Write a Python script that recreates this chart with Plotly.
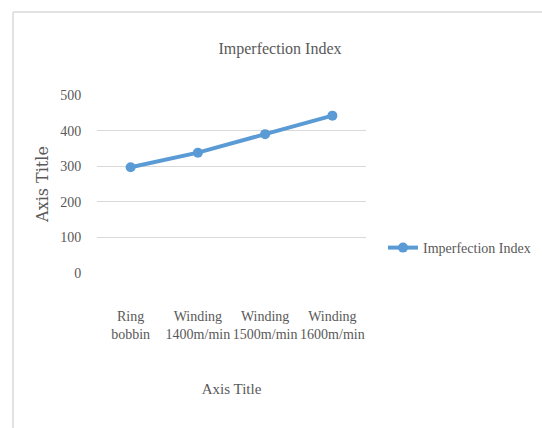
import plotly.graph_objects as go

# Imperfection index for ring bobbin vs. winding speeds
categories = ["Ring<br>bobbin", "Winding<br>1400m/min", "Winding<br>1500m/min", "Winding<br>1600m/min"]
imperfection_index = [297, 338, 390, 442]
y_ticks = [0, 100, 200, 300, 400, 500]

W, H = 542, 428
L, R, T, B = 97, 176, 95, 155
pw, ph = W - L - R, H - T - B

def px(xp):
    return (xp - L) / pw

def py(yp):
    return (H - B - yp) / ph

text_color = "#595959"
grid_color = "#D9D9D9"
serif = "Liberation Serif"

fig = go.Figure()
fig.add_trace(go.Scatter(
    x=categories, y=imperfection_index, mode="lines+markers",
    name="Imperfection Index",
    line=dict(color="#5B9BD5", width=4),
    marker=dict(symbol="circle", size=10, color="#5B9BD5"),
))

fig.update_layout(
    width=W, height=H,
    margin=dict(l=L, r=R, t=T, b=B, autoexpand=False),
    paper_bgcolor="white", plot_bgcolor="white",
    font=dict(family=serif, size=14, color=text_color),
    title=dict(text="Imperfection Index", x=280 / W, xref="container", xanchor="center",
               y=1 - 48 / H, yref="container", yanchor="middle",
               font=dict(family=serif, size=16, color=text_color)),
    showlegend=True,
    legend=dict(x=px(383), y=py(248), xanchor="left", yanchor="middle",
                font=dict(family=serif, size=14, color=text_color),
                bgcolor="rgba(0,0,0,0)"),
    xaxis=dict(
        type="category", range=[-0.5, 3.5], showgrid=False, zeroline=False, showline=False,
        ticks="outside", ticklen=30, tickcolor="rgba(0,0,0,0)",
        tickfont=dict(family=serif, size=14, color=text_color),
        title=dict(text="Axis Title", standoff=42,
                   font=dict(family=serif, size=15, color=text_color)),
        automargin=False,
    ),
    yaxis=dict(
        range=[0, 500], tickvals=y_ticks, showgrid=True, gridcolor=grid_color, gridwidth=1,
        zeroline=False, showline=False,
        ticks="outside", ticklen=12, tickcolor="rgba(0,0,0,0)",
        tickfont=dict(family=serif, size=14, color=text_color),
        title=dict(text="Axis Title", standoff=7,
                   font=dict(family="DejaVu Serif", size=16, color=text_color)),
        automargin=False,
    ),
    shapes=[
        dict(type="line", xref="paper", yref="paper", x0=px(13), x1=px(W + 5),
             y0=py(12), y1=py(12), line=dict(color=grid_color, width=1.5), layer="below"),
        dict(type="line", xref="paper", yref="paper", x0=px(13), x1=px(13),
             y0=py(12), y1=py(H + 5), line=dict(color=grid_color, width=1.5), layer="below"),
    ],
)

fig.write_html("out.html")
